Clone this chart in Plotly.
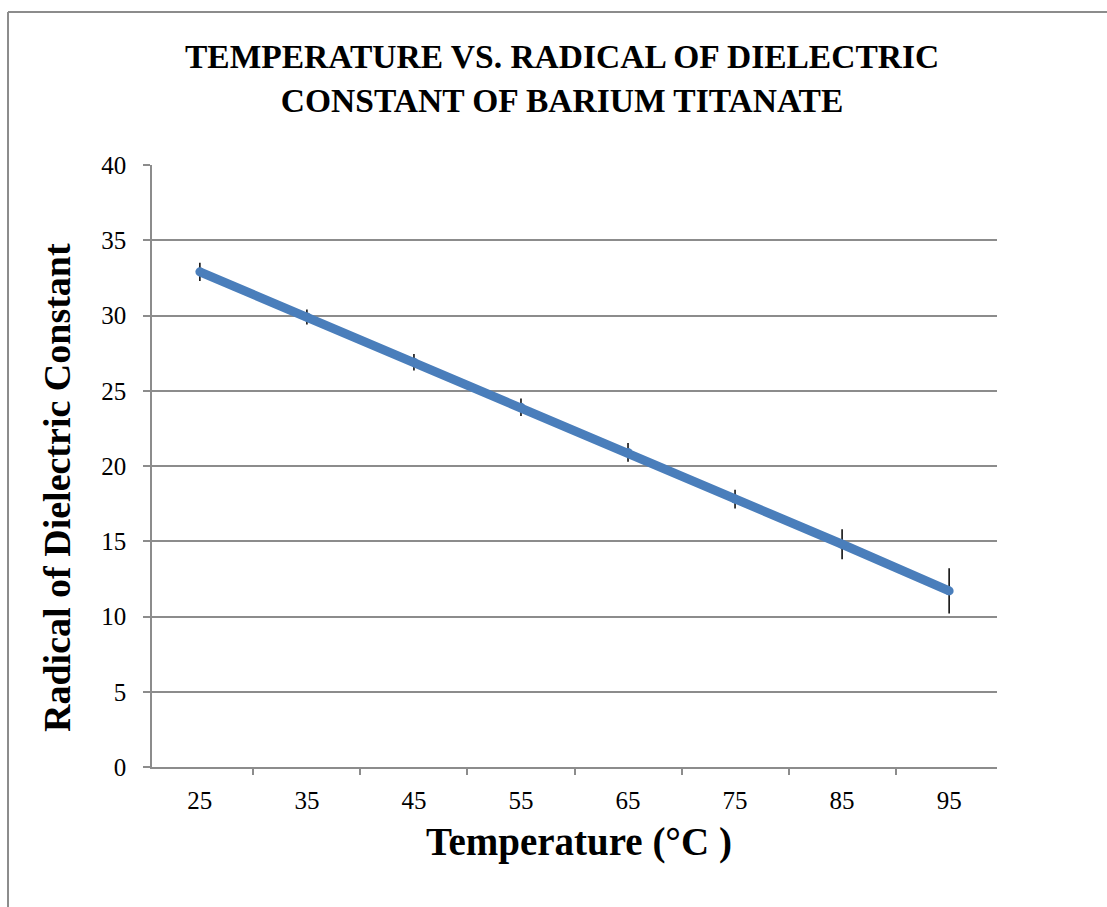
import plotly.graph_objects as go

temperatures = ["25", "35", "45", "55", "65", "75", "85", "95"]
radical_values = [32.9, 29.9, 26.9, 23.9, 20.9, 17.8, 14.8, 11.7]
error_values = [0.6, 0.5, 0.55, 0.58, 0.62, 0.62, 1.0, 1.5]
y_ticks = [0, 5, 10, 15, 20, 25, 30, 35, 40]

FONT = "Liberation Serif"
GRAY = "#8c8c8c"

fig = go.Figure()
fig.add_trace(go.Scatter(
    x=temperatures, y=radical_values, mode="lines+markers",
    line=dict(color="#4a7ebb", width=9),
    marker=dict(color="#4a7ebb", size=9),
    error_y=dict(type="data", array=error_values, visible=True,
                 color="black", thickness=1.5, width=0),
    showlegend=False,
))

fig.update_layout(
    width=1107, height=907,
    margin=dict(l=152, r=110, t=165, b=140, autoexpand=False),
    paper_bgcolor="white", plot_bgcolor="white",
    font=dict(family=FONT, color="black", size=25),
    xaxis=dict(
        type="category", tickson="boundaries", ticks="outside", ticklen=6,
        tickcolor=GRAY, tickwidth=1.5, showline=True, linecolor=GRAY, linewidth=1.5,
        showgrid=False, tickfont=dict(size=25), ticklabelstandoff=10,
    ),
    yaxis=dict(
        range=[0, 40], tickvals=y_ticks, ticks="outside", ticklen=7,
        tickcolor=GRAY, tickwidth=1.5, showline=True, linecolor=GRAY, linewidth=1.5,
        showgrid=True, gridcolor=GRAY, gridwidth=1.5, zeroline=False,
        tickfont=dict(size=25), ticklabelstandoff=12,
    ),
    annotations=[
        dict(text="TEMPERATURE VS. RADICAL OF DIELECTRIC<br>CONSTANT OF BARIUM TITANATE",
             xref="paper", yref="paper", x=0.4852, y=1.1429, xanchor="center", yanchor="middle",
             showarrow=False, font=dict(family=FONT, size=33.5, color="black", weight="bold")),
        dict(text="Temperature (°C )",
             xref="paper", yref="paper", x=0.5053, y=-0.1246, xanchor="center", yanchor="middle",
             showarrow=False, font=dict(family=FONT, size=39, color="black", weight="bold")),
        dict(text="Radical of Dielectric Constant", textangle=-90,
             xref="paper", yref="paper", x=-0.1124, y=0.4635, xanchor="center", yanchor="middle",
             showarrow=False, font=dict(family=FONT, size=38, color="black", weight="bold")),
    ],
    shapes=[
        dict(type="line", xref="paper", yref="paper", x0=-0.1704, x1=1.14, y0=1.2542, y1=1.2542,
             line=dict(color=GRAY, width=2)),
        dict(type="line", xref="paper", yref="paper", x0=-0.1704, x1=-0.1704, y0=-0.25, y1=1.2542,
             line=dict(color=GRAY, width=2)),
    ],
)

fig.write_html("out.html")
